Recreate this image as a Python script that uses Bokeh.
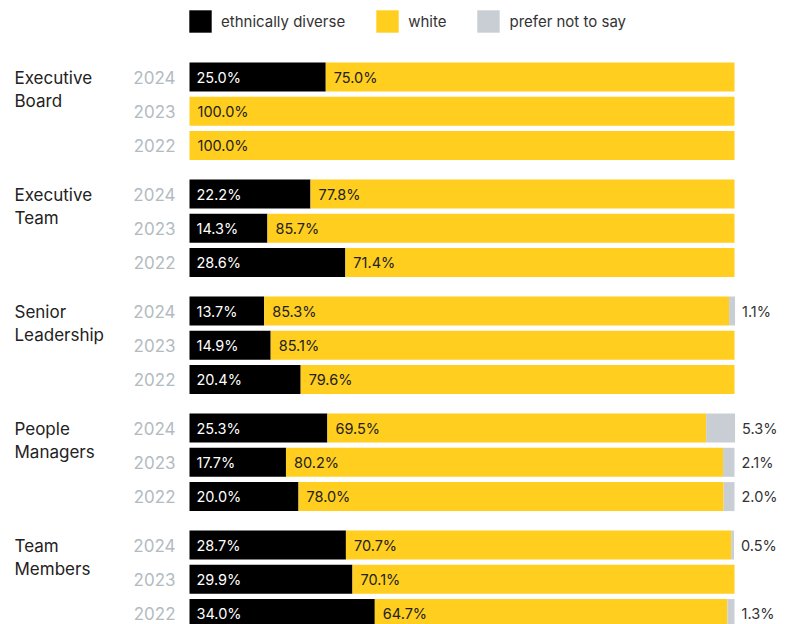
from bokeh.plotting import figure
from bokeh.models import ColumnDataSource, Range1d, Legend, LegendItem
from bokeh.core.properties import value
from bokeh.embed import file_html
from bokeh.resources import INLINE

groups = ["Executive\nBoard", "Executive\nTeam", "Senior\nLeadership", "People\nManagers", "Team\nMembers"]
years = ["2024", "2023", "2022"]
diverse = [[25.0, 0.0, 0.0], [22.2, 14.3, 28.6], [13.7, 14.9, 20.4], [25.3, 17.7, 20.0], [28.7, 29.9, 34.0]]
white = [[75.0, 100.0, 100.0], [77.8, 85.7, 71.4], [85.3, 85.1, 79.6], [69.5, 80.2, 78.0], [70.7, 70.1, 64.7]]
prefer = [[0.0, 0.0, 0.0], [0.0, 0.0, 0.0], [1.1, 0.0, 0.0], [5.3, 2.1, 2.0], [0.5, 0.0, 1.3]]
series = ["ethnically diverse", "white", "prefer not to say"]
colors = ["#000000", "#FFCE1F", "#C8CED3"]

FONT = "Inter"
W, H = 790, 624
PX = 5.45            # pixels per percent
X0 = 189             # frame px where 0% sits
TOP = 76.5           # centre of first row (frame px)
ROW = 34.3
GROUP = 117.0
BAR_H = 29

rows = dict(y=[], year=[], d=[], w=[], p=[], dl=[], wl=[], pl=[], wx=[], px=[])
glab = dict(y=[], text=[])
for g, name in enumerate(groups):
    for r, yr in enumerate(years):
        yc = TOP + g * GROUP + r * ROW
        d, w, pr = diverse[g][r], white[g][r], prefer[g][r]
        rows["y"].append(yc)
        rows["year"].append(yr)
        rows["d"].append(d)
        rows["w"].append(w)
        rows["p"].append(pr)
        rows["dl"].append(f"{d:.1f}%" if d > 0 else "")
        rows["wl"].append(f"{w:.1f}%" if w > 0 else "")
        rows["pl"].append(f"{pr:.1f}%" if pr > 0 else "")
        rows["wx"].append(d)
        rows["px"].append(d + w + pr)
        if r == 0:
            glab["y"].append(yc - BAR_H / 2 + 5)
            glab["text"].append(name)

src = ColumnDataSource(rows)

p = figure(width=W, height=H, output_backend="svg", toolbar_location=None,
           x_range=Range1d(-X0 / PX, (W - X0) / PX), y_range=Range1d(H, 0),
           min_border=0, outline_line_color=None)
p.axis.visible = False
p.grid.visible = False

rs = p.hbar_stack(["d", "w", "p"], y="y", height=BAR_H, color=colors, source=src, line_width=0)

p.text(x=0, y="y", text="dl", source=src, x_offset=7, text_color="white", text_font=value(FONT),
       text_font_size="14.5px", text_baseline="middle", text_align="left")
p.text(x="wx", y="y", text="wl", source=src, x_offset=8, text_color="#222222", text_font=value(FONT),
       text_font_size="14.5px", text_baseline="middle", text_align="left")
p.text(x="px", y="y", text="pl", source=src, x_offset=7, text_color="#333333", text_font=value(FONT),
       text_font_size="14.5px", text_baseline="middle", text_align="left")
p.text(x=0, y="y", text="year", source=src, x_offset=-14, text_color="#B3BBC1", text_font=value(FONT),
       text_font_size="17px", text_baseline="middle", text_align="right")
p.text(x=-X0 / PX, y="y", text="text", source=ColumnDataSource(glab), x_offset=14, text_color="#222222",
       text_font=value(FONT), text_font_size="17px", text_baseline="top", text_align="left",
       text_line_height=1.15)

legend = Legend(items=[LegendItem(label=s, renderers=[r]) for s, r in zip(series, rs)],
                orientation="horizontal", location=(X0 - 3, H - 7 - 28), glyph_width=28, glyph_height=28,
                label_standoff=7, spacing=28, padding=0, margin=0,
                label_text_font=FONT, label_text_font_size="15px", label_text_color="#333333",
                border_line_color=None, background_fill_alpha=0)
p.add_layout(legend, "center")

open("out.html", "w").write(file_html(p, INLINE))
